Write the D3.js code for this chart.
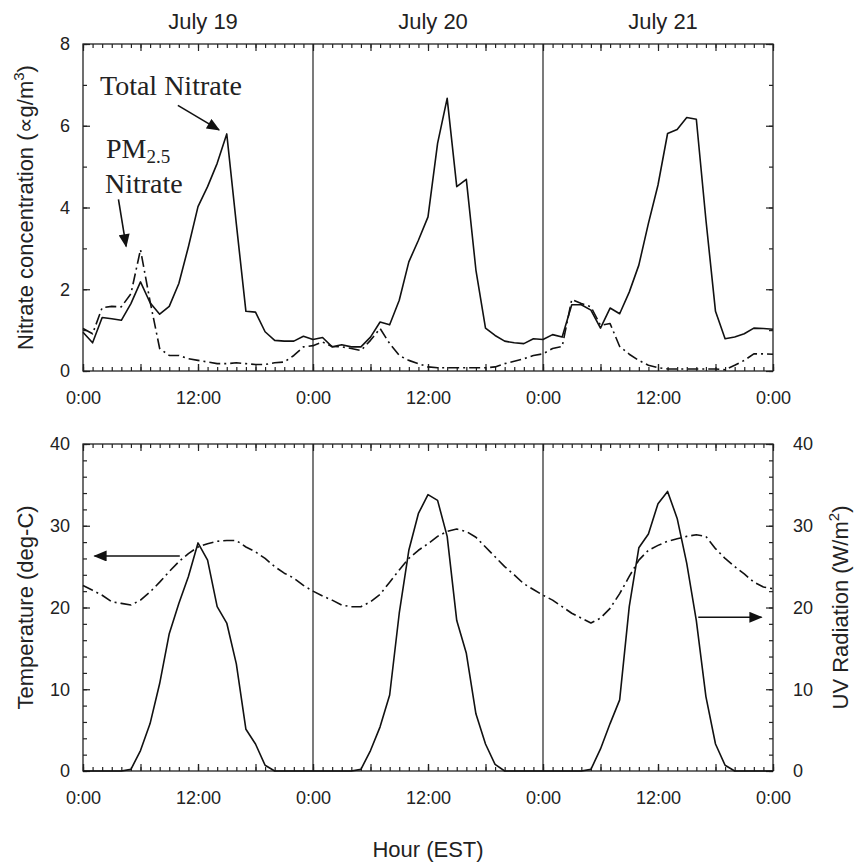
<!DOCTYPE html>
<html>
<head>
<meta charset="utf-8">
<script src="https://cdn.jsdelivr.net/npm/d3@7"></script>
<style>
  body { margin: 0; background: #fff; }
  svg { font-family: "Liberation Sans", Arial, sans-serif; }
  .axis path { display: none; }
  .axis line { stroke: #222; stroke-width: 1.2; }
  .axis text { font-size: 18px; fill: #222; font-family: "Liberation Sans", Arial, sans-serif; }
</style>
</head>
<body>
<svg id="chart" width="854" height="866"></svg>
<script>
// hourly readings, 0:00 July 19 to 0:00 July 22
var days = ['July 19', 'July 20', 'July 21'];
var hourTickLabels = ['0:00', '12:00', '0:00', '12:00', '0:00', '12:00', '0:00'];

var totalNitrate = [
  0.95, 0.69, 1.31, 1.28, 1.24, 1.65, 2.18, 1.67, 1.39, 1.58, 2.14, 3.04,
  4.02, 4.51, 5.08, 5.80, 3.60, 1.46, 1.44, 0.96, 0.75, 0.73, 0.73, 0.85,
  0.77, 0.82, 0.59, 0.64, 0.59, 0.59, 0.83, 1.20, 1.13, 1.73, 2.67, 3.20,
  3.77, 5.57, 6.67, 4.51, 4.69, 2.47, 1.05, 0.87, 0.73, 0.69, 0.67, 0.79,
  0.77, 0.89, 0.83, 1.62, 1.62, 1.49, 1.05, 1.54, 1.40, 1.93, 2.59, 3.61,
  4.55, 5.81, 5.91, 6.20, 6.16, 3.70, 1.46, 0.79, 0.83, 0.91, 1.05, 1.04,
  1.02
];
var pm25Nitrate = [
  1.04, 0.91, 1.55, 1.58, 1.57, 1.89, 2.97, 1.70, 0.55, 0.38, 0.38, 0.30,
  0.26, 0.22, 0.18, 0.18, 0.20, 0.18, 0.16, 0.16, 0.20, 0.22, 0.38, 0.59,
  0.62, 0.71, 0.60, 0.59, 0.55, 0.50, 0.75, 1.04, 0.67, 0.38, 0.26, 0.18,
  0.10, 0.08, 0.08, 0.08, 0.08, 0.08, 0.08, 0.10, 0.18, 0.24, 0.30, 0.38,
  0.42, 0.55, 0.60, 1.75, 1.65, 1.57, 1.12, 1.16, 0.60, 0.41, 0.26, 0.14,
  0.08, 0.05, 0.05, 0.05, 0.05, 0.05, 0.05, 0.03, 0.14, 0.26, 0.42, 0.42,
  0.41
];
var uvRadiation = [
  0, 0, 0, 0, 0, 0.2, 2.5, 5.8, 10.7, 16.8, 20.5, 23.8,
  27.9, 25.8, 20.1, 18.1, 13.1, 5.1, 3.3, 0.7, 0, 0, 0, 0,
  0, 0, 0, 0, 0, 0.2, 2.5, 5.4, 9.3, 19.3, 27.0, 31.5,
  33.8, 33.1, 28.7, 18.4, 14.4, 7.0, 3.3, 0.8, 0, 0, 0, 0,
  0, 0, 0, 0, 0, 0.2, 2.7, 5.8, 8.7, 20.1, 27.3, 29.0,
  32.7, 34.2, 30.9, 25.4, 18.4, 9.1, 3.3, 0.7, 0, 0, 0, 0,
  0
];
var temperature = [
  22.7, 22.1, 21.5, 20.7, 20.5, 20.3, 20.9, 21.9, 23.1, 24.4, 25.6, 26.6,
  27.4, 27.8, 28.1, 28.2, 28.2, 27.4, 26.8, 26.0, 25.0, 24.2, 23.6, 22.7,
  22.0, 21.4, 20.9, 20.3, 20.1, 20.1, 20.7, 21.6, 23.1, 24.6, 26.0, 27.0,
  27.8, 28.7, 29.3, 29.6, 29.3, 28.6, 27.4, 26.2, 25.0, 24.0, 22.9, 22.2,
  21.5, 20.9, 20.1, 19.3, 18.7, 18.1, 18.7, 19.9, 21.7, 23.8, 25.8, 27.0,
  27.6, 28.1, 28.4, 28.7, 28.9, 28.7, 27.2, 26.0, 25.0, 24.1, 23.1, 22.5,
  22.3
];

var hours = d3.range(0, 73);
var dashDot = '11,4,2,4';

var svg = d3.select('#chart');

var x = d3.scaleLinear().domain([0, 72]).range([83, 773]);
var yTop = d3.scaleLinear().domain([0, 8]).range([371, 44]);
var yBot = d3.scaleLinear().domain([0, 40]).range([771, 444]);

function drawFrame(y) {
  var top = y.range()[1], bottom = y.range()[0];
  var g = svg.append('g');

  // bottom x axis with labels
  g.append('g').attr('class', 'axis')
    .attr('transform', 'translate(0,' + bottom + ')')
    .call(d3.axisBottom(x).tickValues(d3.range(0, 73, 12)).tickSize(-7).tickPadding(20)
      .tickFormat(function (d, i) { return hourTickLabels[i]; }));
  g.append('g').attr('class', 'axis')
    .attr('transform', 'translate(0,' + bottom + ')')
    .call(d3.axisBottom(x).tickValues(d3.range(0, 73, 6)).tickSize(-7).tickFormat(''));
  g.append('g').attr('class', 'axis')
    .attr('transform', 'translate(0,' + bottom + ')')
    .call(d3.axisBottom(x).tickValues(hours).tickSize(-4).tickFormat(''));
  // top x axis, ticks only
  g.append('g').attr('class', 'axis')
    .attr('transform', 'translate(0,' + top + ')')
    .call(d3.axisTop(x).tickValues(d3.range(0, 73, 6)).tickSize(-7).tickFormat(''));
  g.append('g').attr('class', 'axis')
    .attr('transform', 'translate(0,' + top + ')')
    .call(d3.axisTop(x).tickValues(hours).tickSize(-4).tickFormat(''));

  return g;
}

// ---- top panel
var g1 = drawFrame(yTop);
g1.append('g').attr('class', 'axis')
  .attr('transform', 'translate(' + x(0) + ',0)')
  .call(d3.axisLeft(yTop).tickValues([0, 2, 4, 6, 8]).tickSize(-7).tickPadding(13));
g1.append('g').attr('class', 'axis')
  .attr('transform', 'translate(' + x(0) + ',0)')
  .call(d3.axisLeft(yTop).tickValues(d3.range(0, 9)).tickSize(-4).tickFormat(''));
g1.append('g').attr('class', 'axis')
  .attr('transform', 'translate(' + x(72) + ',0)')
  .call(d3.axisRight(yTop).tickValues([0, 2, 4, 6, 8]).tickSize(-7).tickFormat(''));
g1.append('g').attr('class', 'axis')
  .attr('transform', 'translate(' + x(72) + ',0)')
  .call(d3.axisRight(yTop).tickValues(d3.range(0, 9)).tickSize(-4).tickFormat(''));

// ---- bottom panel
var g2 = drawFrame(yBot);
g2.append('g').attr('class', 'axis')
  .attr('transform', 'translate(' + x(0) + ',0)')
  .call(d3.axisLeft(yBot).tickValues([0, 10, 20, 30, 40]).tickSize(-7).tickPadding(13));
g2.append('g').attr('class', 'axis')
  .attr('transform', 'translate(' + x(0) + ',0)')
  .call(d3.axisLeft(yBot).tickValues(d3.range(0, 41, 2)).tickSize(-4).tickFormat(''));
g2.append('g').attr('class', 'axis')
  .attr('transform', 'translate(' + x(72) + ',0)')
  .call(d3.axisRight(yBot).tickValues([0, 10, 20, 30, 40]).tickSize(-7).tickPadding(20));
g2.append('g').attr('class', 'axis')
  .attr('transform', 'translate(' + x(72) + ',0)')
  .call(d3.axisRight(yBot).tickValues(d3.range(0, 41, 2)).tickSize(-4).tickFormat(''));

// frames and day separators
[yTop, yBot].forEach(function (y) {
  svg.append('rect')
    .attr('x', x(0)).attr('y', y.range()[1])
    .attr('width', x(72) - x(0)).attr('height', y.range()[0] - y.range()[1])
    .attr('fill', 'none').attr('stroke', '#222').attr('stroke-width', 1.3);
  [24, 48].forEach(function (h) {
    svg.append('line')
      .attr('x1', x(h)).attr('x2', x(h))
      .attr('y1', y.range()[1]).attr('y2', y.range()[0])
      .attr('stroke', '#222').attr('stroke-width', 1.2);
  });
});

// lines
function drawLine(values, y, dash) {
  var line = d3.line().x(function (d, i) { return x(hours[i]); }).y(function (d) { return y(d); });
  svg.append('path')
    .datum(values)
    .attr('d', line)
    .attr('fill', 'none')
    .attr('stroke', '#111')
    .attr('stroke-width', 1.6)
    .attr('stroke-linejoin', 'round')
    .attr('stroke-dasharray', dash);
}
drawLine(totalNitrate, yTop, null);
drawLine(pm25Nitrate, yTop, dashDot);
drawLine(uvRadiation, yBot, null);
drawLine(temperature, yBot, dashDot);

// day labels
svg.selectAll('.day')
  .data(days)
  .enter()
  .append('text')
  .attr('class', 'day')
  .attr('x', function (d, i) { return x(i * 24 + 12) + 5; })
  .attr('y', 29)
  .attr('text-anchor', 'middle')
  .style('font-size', '22px')
  .style('fill', '#222')
  .text(function (d) { return d; });

// axis titles
var tl = svg.append('text')
  .attr('transform', 'translate(33,' + ((44 + 371) / 2) + ') rotate(-90)')
  .attr('text-anchor', 'middle')
  .style('font-size', '22px').style('fill', '#222');
tl.append('tspan').text('Nitrate concentration (\u221Dg/m');
tl.append('tspan').attr('dy', -9).style('font-size', '15px').text('3');
tl.append('tspan').attr('dy', 9).text(')');

svg.append('text')
  .attr('transform', 'translate(33,' + ((444 + 771) / 2) + ') rotate(-90)')
  .attr('text-anchor', 'middle')
  .style('font-size', '22px').style('fill', '#222')
  .text('Temperature (deg-C)');

var tr = svg.append('text')
  .attr('transform', 'translate(848,' + ((444 + 771) / 2) + ') rotate(-90)')
  .attr('text-anchor', 'middle')
  .style('font-size', '22px').style('fill', '#222');
tr.append('tspan').text('UV Radiation (W/m');
tr.append('tspan').attr('dy', -9).style('font-size', '15px').text('2');
tr.append('tspan').attr('dy', 9).text(')');

svg.append('text')
  .attr('x', (83 + 773) / 2)
  .attr('y', 857)
  .attr('text-anchor', 'middle')
  .style('font-size', '22px').style('fill', '#222')
  .text('Hour (EST)');

// annotations
svg.append('defs').append('marker')
  .attr('id', 'head')
  .attr('viewBox', '0 0 12 10')
  .attr('refX', 11).attr('refY', 5)
  .attr('markerUnits', 'userSpaceOnUse')
  .attr('markerWidth', 14).attr('markerHeight', 11)
  .attr('orient', 'auto')
  .append('path').attr('d', 'M0,0 L12,5 L0,10 Z').attr('fill', '#111');

function arrow(x1, y1, x2, y2) {
  svg.append('line')
    .attr('x1', x1).attr('y1', y1).attr('x2', x2).attr('y2', y2)
    .attr('stroke', '#111').attr('stroke-width', 1.6)
    .attr('marker-end', 'url(#head)');
}

var serif = '"Liberation Serif", "Times New Roman", serif';
svg.append('text')
  .attr('x', 100).attr('y', 95)
  .style('font-family', serif).style('font-size', '28px').style('fill', '#222')
  .text('Total Nitrate');
arrow(x(9.9), yTop(6.5), x(14.2), yTop(5.9));

var pm = svg.append('text')
  .attr('x', 106).attr('y', 158)
  .style('font-family', serif).style('font-size', '28px').style('fill', '#222');
pm.append('tspan').text('PM');
pm.append('tspan').attr('dy', 5).style('font-size', '19px').text('2.5');
svg.append('text')
  .attr('x', 105).attr('y', 193)
  .style('font-family', serif).style('font-size', '28px').style('fill', '#222')
  .text('Nitrate');
arrow(x(3.7), yTop(4.2), x(4.5), yTop(3.05));

arrow(x(10.1), yBot(26.3), x(1.2), yBot(26.3));
arrow(x(64.2), yBot(18.8), x(70.8), yBot(18.8));
</script>
</body>
</html>
